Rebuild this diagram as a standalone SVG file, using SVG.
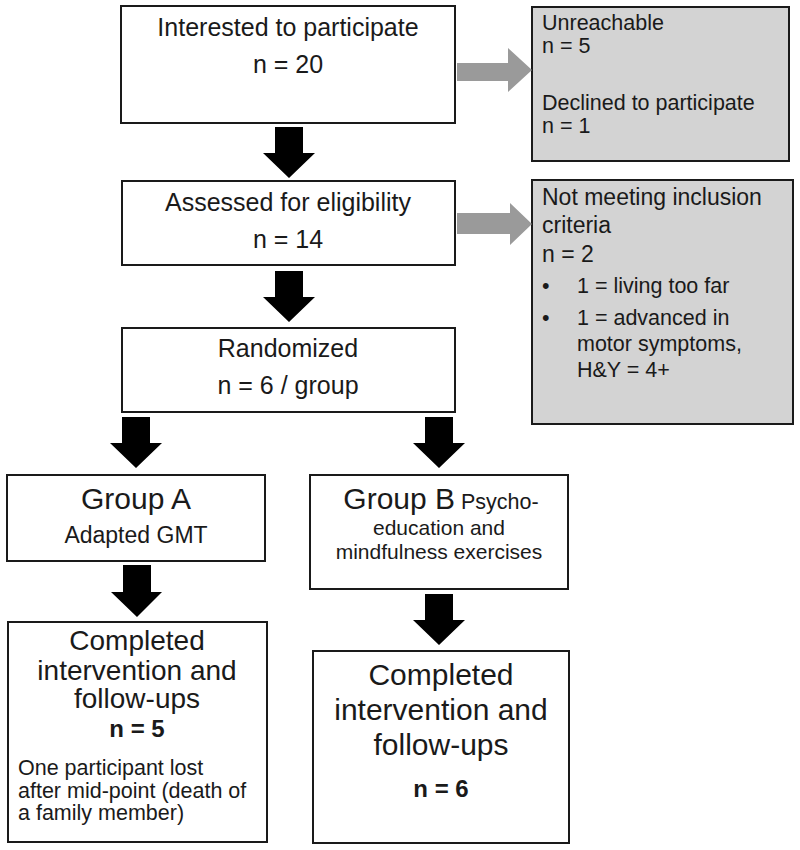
<svg xmlns="http://www.w3.org/2000/svg" width="800" height="850" viewBox="0 0 800 850">
<style>
.box{fill:#fff;stroke:#1a1a1a;stroke-width:2}
.gbox{fill:#d3d3d3;stroke:#1a1a1a;stroke-width:2}
.t{font-family:"Liberation Sans",Arial,sans-serif;fill:#1a1a1a}
.c{text-anchor:middle}
.arr{fill:#000}
.garr{fill:#9a9a9a}
</style>
<rect width="800" height="850" fill="#fff"/>
<g id="interested">
<rect class="box" x="121" y="6" width="334" height="117"/>
<text class="t c" x="288" y="36" font-size="25">Interested to participate</text>
<text class="t c" x="288" y="73" font-size="25">n = 20</text>
</g>
<g id="excluded1">
<rect class="gbox" x="532" y="7" width="257" height="154"/>
<text class="t" x="542" y="30" font-size="21.5">Unreachable</text>
<text class="t" x="542" y="53" font-size="21.5">n = 5</text>
<text class="t" x="542" y="110" font-size="21.5">Declined to participate</text>
<text class="t" x="542" y="133" font-size="21.5">n = 1</text>
</g>
<g id="assessed">
<rect class="box" x="122" y="181" width="333" height="84"/>
<text class="t c" x="288" y="211" font-size="25">Assessed for eligibility</text>
<text class="t c" x="288" y="248" font-size="25">n = 14</text>
</g>
<g id="excluded2">
<rect class="gbox" x="532" y="180" width="261" height="244"/>
<text class="t" x="542" y="205" font-size="23">Not meeting inclusion</text>
<text class="t" x="542" y="233" font-size="23">criteria</text>
<text class="t" x="542" y="262" font-size="23">n = 2</text>
<text class="t" x="542" y="293" font-size="21.5">•</text>
<text class="t" x="577" y="293" font-size="21.5">1 = living too far</text>
<text class="t" x="542" y="325" font-size="21.5">•</text>
<text class="t" x="577" y="325" font-size="21.5">1 = advanced in</text>
<text class="t" x="577" y="351" font-size="21.5">motor symptoms,</text>
<text class="t" x="577" y="377" font-size="21.5">H&amp;Y = 4+</text>
</g>
<g id="randomized">
<rect class="box" x="122" y="328" width="333" height="84"/>
<text class="t c" x="288" y="357" font-size="25">Randomized</text>
<text class="t c" x="288" y="394" font-size="25">n = 6 / group</text>
</g>
<g id="groupA">
<rect class="box" x="7" y="475" width="258" height="86"/>
<text class="t c" x="136" y="509" font-size="30">Group A</text>
<text class="t c" x="136" y="543" font-size="23">Adapted GMT</text>
</g>
<g id="groupB">
<rect class="box" x="310" y="475" width="258" height="114"/>
<text class="t c" x="441" y="509"><tspan font-size="30">Group B</tspan><tspan font-size="21.5"> Psycho-</tspan></text>
<text class="t c" x="439" y="535" font-size="21">education and</text>
<text class="t c" x="439" y="559" font-size="21">mindfulness exercises</text>
</g>
<g id="completedA">
<rect class="box" x="8" y="622" width="259" height="220"/>
<text class="t c" x="137" y="650" font-size="28">Completed</text>
<text class="t c" x="137" y="680" font-size="28">intervention and</text>
<text class="t c" x="137" y="708" font-size="28">follow-ups</text>
<text class="t c" x="137" y="737" font-size="24" font-weight="bold">n = 5</text>
<text class="t" x="18" y="775" font-size="21.5">One participant lost</text>
<text class="t" x="18" y="798" font-size="21.5">after mid-point (death of</text>
<text class="t" x="18" y="820" font-size="21.5">a family member)</text>
</g>
<g id="completedB">
<rect class="box" x="313" y="651" width="256" height="192"/>
<text class="t c" x="441" y="685" font-size="30">Completed</text>
<text class="t c" x="441" y="720" font-size="30">intervention and</text>
<text class="t c" x="441" y="755" font-size="30">follow-ups</text>
<text class="t c" x="441" y="797" font-size="24" font-weight="bold">n = 6</text>
</g>
<g id="connectors">
<polygon class="garr" points="457,63 508,63 508,48 532,70 508,92 508,81 457,81"/>
<polygon class="garr" points="457,213 510,213 510,203 532,224 510,245 510,234 457,234"/>
<polygon class="arr" points="275,127 303,127 303,153 315,153 289,178 263,153 275,153"/>
<polygon class="arr" points="275,271 303,271 303,297 315,297 289,322 263,297 275,297"/>
<polygon class="arr" points="122,417 150,417 150,443 162,443 136,468 110,443 122,443"/>
<polygon class="arr" points="425,417 453,417 453,443 465,443 439,468 413,443 425,443"/>
<polygon class="arr" points="123,565 151,565 151,592 162,592 137,617 111,592 123,592"/>
<polygon class="arr" points="425,594 453,594 453,620 465,620 439,645 413,620 425,620"/>
</g>
</svg>
